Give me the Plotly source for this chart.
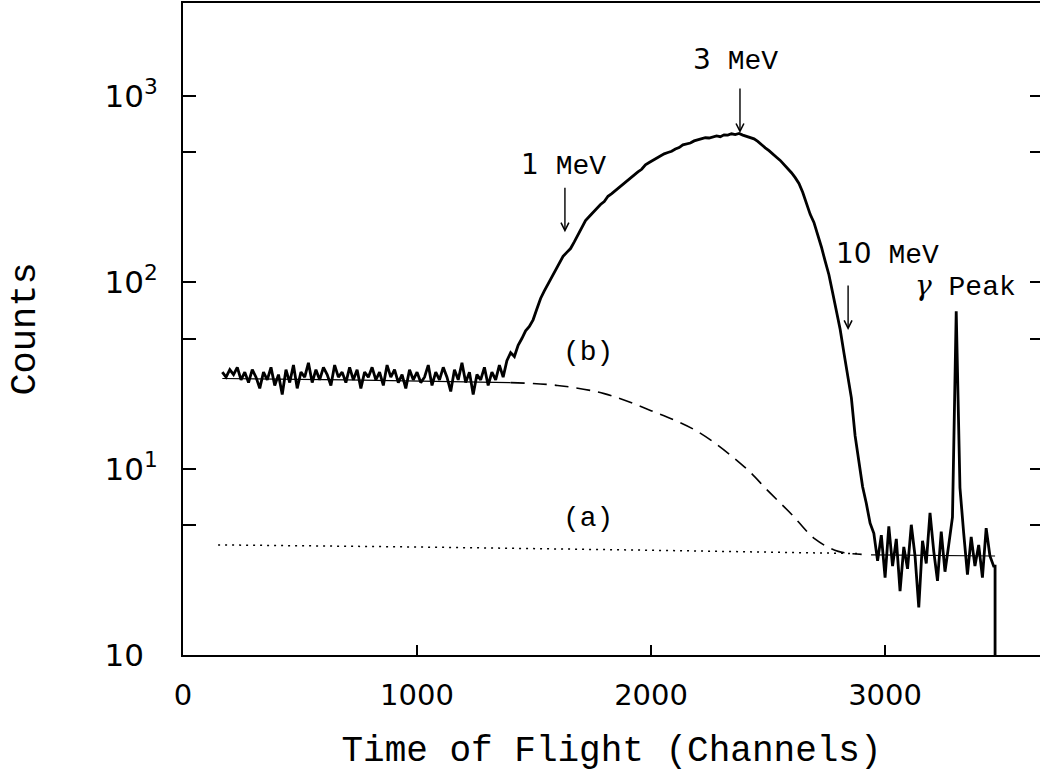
import numpy as np
import plotly.graph_objects as go

# ---------------- data ----------------
BIN_START = 168          # first channel of the histogram
BIN_WIDTH = 16           # channels per bin

# flat (uncorrelated background) part, channels 168 .. 1384
flat_counts = [33, 31, 34, 32, 35, 30, 33, 29, 34, 31,
               27, 33, 30, 35, 28, 32, 25, 34, 29, 36,
               27, 33, 31, 37, 29, 34, 30, 35, 32, 28,
               36, 31, 33, 29, 35, 30, 34, 27, 33, 31,
               35, 30, 33, 28, 36, 31, 34, 29, 32, 27,
               34, 30, 33, 29, 31, 36, 28, 33, 30, 35,
               31, 26, 34, 30, 37, 29, 33, 25, 32, 30,
               35, 28, 33, 30, 36, 31, 38]
# rising edge, channels 1400 .. 2376
rise_counts = [42, 40, 46, 50, 55, 58, 63, 72, 82, 90,
               98, 108, 118, 126, 138, 145, 152, 165, 180, 200,
               215, 226, 238, 248, 262, 272, 290, 300, 312, 322,
               338, 350, 362, 378, 392, 405, 428, 440, 452, 465,
               478, 490, 498, 506, 520, 530, 548, 556, 560, 575,
               582, 590, 598, 596, 606, 612, 606, 620, 618, 628,
               622, 630]
# falling edge, channels 2392 .. 2952
fall_counts = [618, 610, 600, 590, 572, 548, 528, 510, 492, 470,
               452, 430, 408, 388, 365, 340, 305, 268, 232, 210,
               182, 155, 130, 110, 88, 71, 56, 42, 32, 24,
               15, 11, 8, 6.5, 5.1, 4.5]
# tail with the gamma peak, channels 2968 .. 3464
tail_counts = [3.2, 4.4, 2.6, 4.9, 3.0, 4.2, 2.2, 3.8, 2.9, 5.0,
               3.4, 1.8, 4.1, 3.1, 5.8, 3.6, 2.5, 4.6, 2.8, 3.9,
               5.5, 70, 7.9, 4.5, 2.7, 4.3, 3.0, 3.9, 2.6, 4.8,
               3.4, 3.0]
END_CHANNEL = 3470       # spectrum ends here and falls to zero
END_COUNT = 0.3

# fit curve (b): background + correlated part
fit_b_channels = [168, 700, 1400, 1600, 1800, 2000, 2200, 2400, 2500, 2600, 2700, 2800, 2900]
fit_b_counts = [30.5, 30, 29, 28, 25.3, 20.5, 15.8, 10.2, 7.6, 5.7, 4.2, 3.6, 3.47]
FIT_B_DASH_START = 2     # index where (b) becomes dashed

# fit curve (a): uncorrelated background
fit_a_channels = [150, 1000, 2000, 2900]
fit_a_counts = [3.9, 3.8, 3.65, 3.5]

# total fit under the tail
tail_fit_channels = [2940, 3470]
tail_fit_counts = [3.45, 3.4]

x_ticks = [0, 1000, 2000, 3000]
y_major = [1, 10, 100, 1000]
y_major_text = ["10<sup>\u2007</sup>", "10<sup>1</sup>", "10<sup>2</sup>", "10<sup>3</sup>"]
y_minor = [5, 50, 500]

# ---------------- figure ----------------
counts = flat_counts + rise_counts + fall_counts + tail_counts
channels = list(BIN_START + BIN_WIDTH * np.arange(len(counts)))
spec_x = channels + [END_CHANNEL, END_CHANNEL]
spec_y = counts + [counts[-1], END_COUNT]

MONO = "Liberation Mono"
SANS = "DejaVu Sans"

fig = go.Figure()
fig.add_trace(go.Scatter(x=fit_b_channels[:FIT_B_DASH_START + 1], y=fit_b_counts[:FIT_B_DASH_START + 1],
                         mode="lines", line=dict(color="black", width=1.2), showlegend=False))
fig.add_trace(go.Scatter(x=fit_b_channels[FIT_B_DASH_START:], y=fit_b_counts[FIT_B_DASH_START:],
                         mode="lines", line=dict(color="black", width=1.6, dash="14px,8px", shape="spline"),
                         showlegend=False))
fig.add_trace(go.Scatter(x=fit_a_channels, y=fit_a_counts, mode="lines",
                         line=dict(color="black", width=1.5, dash="2px,5px"), showlegend=False))
fig.add_trace(go.Scatter(x=tail_fit_channels, y=tail_fit_counts, mode="lines", yaxis="y2",
                         line=dict(color="black", width=1.2), showlegend=False))
fig.add_trace(go.Scatter(x=spec_x, y=spec_y, mode="lines",
                         line=dict(color="black", width=2.8, shape="linear"), showlegend=False))

def ann_text(num, rest):
    if num:
        return f"<span style='font-family:{SANS}'>{num}</span> {rest}"
    return rest

GAMMA = "<span style='font-family:DejaVu Serif'><i>\u03b3</i></span>"
labels = [
    ("1", "MeV", 1624, 427),
    ("3", "MeV", 2359, 1563),
    ("10", "MeV", 3009, 142),
    ("", GAMMA + " Peak", 3342, 95.7),
    ("", "(b)", 1731, 42.3),
    ("", "(a)", 1731, 5.43),
]
for num, rest, cx, cy in labels:
    fig.add_annotation(x=cx, y=np.log10(cy), xref="x", yref="y", text=ann_text(num, rest),
                       showarrow=False, borderpad=0, font=dict(family=MONO, size=28, color="black"))

arrows = [(1632, 186), (2380, 634), (2842, 55.6)]
for ax_c, ay_v in arrows:
    fig.add_annotation(x=ax_c, y=np.log10(ay_v), xref="x", yref="y", text="",
                       showarrow=True, ax=0, ay=-46, arrowhead=5, arrowsize=1.1,
                       arrowwidth=1.4, arrowcolor="black")

fig.update_layout(
    width=1040, height=778,
    margin=dict(l=183, r=0, t=3, b=123),
    paper_bgcolor="white", plot_bgcolor="white",
    xaxis=dict(range=[0, 3662], tickvals=x_ticks, ticks="inside", ticklen=10, tickwidth=1.5,
               tickcolor="black", showline=True, linecolor="black", linewidth=2, mirror=True,
               showgrid=False, zeroline=False, ticklabelstandoff=13,
               tickfont=dict(family=SANS, size=29, color="black"),
               title=dict(text="Time of Flight (Channels)", standoff=25,
                          font=dict(family=MONO, size=36, color="black"))),
    yaxis=dict(type="log", range=[0, 3.5], tickvals=y_major, ticktext=y_major_text,
               ticks="inside", ticklen=13, tickwidth=1.5, tickcolor="black",
               minor=dict(tickvals=y_minor, ticks="inside", ticklen=13, tickwidth=1.5, tickcolor="black",
                          showgrid=False),
               showline=True, linecolor="black", linewidth=2, showgrid=False, zeroline=False,
               ticklabelstandoff=17,
               tickfont=dict(family=SANS, size=31, color="black"),
               title=dict(text="Counts", standoff=58, font=dict(family=MONO, size=37, color="black"))),
    yaxis2=dict(type="log", range=[0, 3.5], overlaying="y", side="right", tickvals=y_major,
                showticklabels=False, ticks="inside", ticklen=10, tickwidth=1.5, tickcolor="black",
                minor=dict(tickvals=y_minor, ticks="inside", ticklen=10, tickwidth=1.5, tickcolor="black"),
                showline=False, showgrid=False, zeroline=False),
)

fig.write_html("out.html")
